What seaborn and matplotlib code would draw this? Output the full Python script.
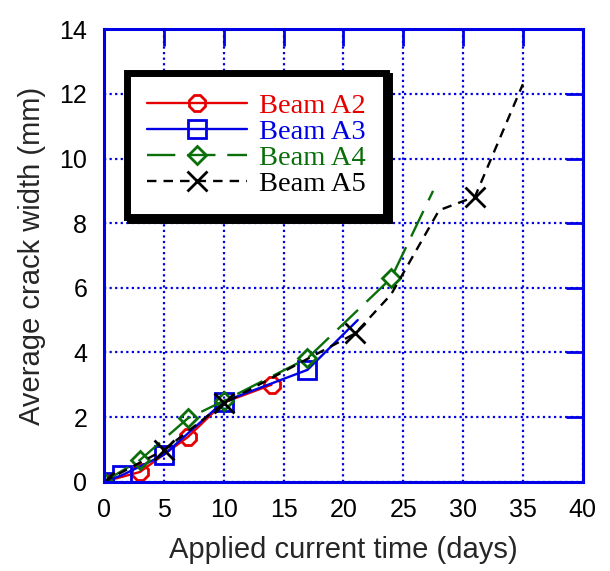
import pandas as pd
import matplotlib
matplotlib.use("Agg")
import matplotlib.pyplot as plt
import seaborn as sns

# data
days_a2 = [0, 3, 7, 10, 14]
width_a2 = [0, 0.3, 1.38, 2.45, 3.0]
days_a3 = [0, 1.5, 5, 10, 17, 21.2]
width_a3 = [0, 0.2, 0.83, 2.48, 3.46, 5.0]
days_a4 = [0, 3, 7, 10, 17, 24, 27.5]
width_a4 = [0, 0.67, 1.96, 2.5, 3.82, 6.3, 9.0]
days_a5 = [0, 5, 10, 21, 24, 28, 31, 35]
width_a5 = [0, 0.98, 2.42, 4.59, 5.8, 8.4, 8.82, 12.3]

x_ticks = list(range(0, 41, 5))
y_ticks = list(range(0, 15, 2))

sns.set_style("white")
plt.rcParams['font.family'] = ['Liberation Sans', 'DejaVu Sans']

blue = '#0000e6'
series = [
    ('Beam A2', days_a2, width_a2, '#e60000', '8', '-', [0, 1, 2, 4], 12),
    ('Beam A3', days_a3, width_a3, blue, 's', '-', [0, 1, 2, 3, 4], 13),
    ('Beam A4', days_a4, width_a4, '#0a6e0a', 'D', (0, (12, 5)), [0, 1, 2, 3, 4, 5], 9),
    ('Beam A5', days_a5, width_a5, 'black', 'x', (0, (4, 3)), [0, 1, 2, 3, 6], 15),
]

fig = plt.figure(figsize=(6.1, 5.71), dpi=100)
ax = fig.add_axes([0.1705, 0.1564, 0.7847, 0.7923])

for name, xs, ys, col, mk, ls, every, ms in series:
    df = pd.DataFrame({'days': xs, 'width': ys})
    sns.lineplot(data=df, x='days', y='width', ax=ax, sort=False, estimator=None,
                 color=col, marker=mk, markersize=ms, markerfacecolor='none',
                 markeredgecolor=col, markeredgewidth=2, linestyle=ls,
                 linewidth=1.7, markevery=every, label=name)

ax.set_xlim(0, 40)
ax.set_ylim(0, 14)
ax.set_xticks(x_ticks)
ax.set_yticks(y_ticks)
ax.grid(True, color=blue, linestyle=(0, (1, 1.5)), linewidth=1.6)
for sp in ax.spines.values():
    sp.set_color(blue)
    sp.set_linewidth(2.2)
ax.tick_params(direction='in', length=12, width=2, colors=blue,
               labelcolor='black', labelsize=18, pad=12,
               top=True, right=True)

ax.set_xlabel('Applied current time (days)', fontsize=21, labelpad=10)
ax.set_ylabel('Average crack width (mm)', fontsize=21, labelpad=10)

handles, labels = ax.get_legend_handles_labels()
leg = ax.legend(handles, labels, loc='upper left', bbox_to_anchor=(0.048, 0.903),
                prop={'family': 'Liberation Serif', 'size': 20.5},
                handlelength=3.5, handletextpad=0.45, labelspacing=0.0,
                borderpad=0.7, borderaxespad=0, numpoints=1, fancybox=False,
                framealpha=1, edgecolor='black',
                shadow={'color': 'black', 'alpha': 1})
leg.get_frame().set_linewidth(5)
for txt, (_, _, _, col, _, _, _, _) in zip(leg.get_texts(), series):
    txt.set_color(col)

fig.savefig('out.png', dpi=100)
